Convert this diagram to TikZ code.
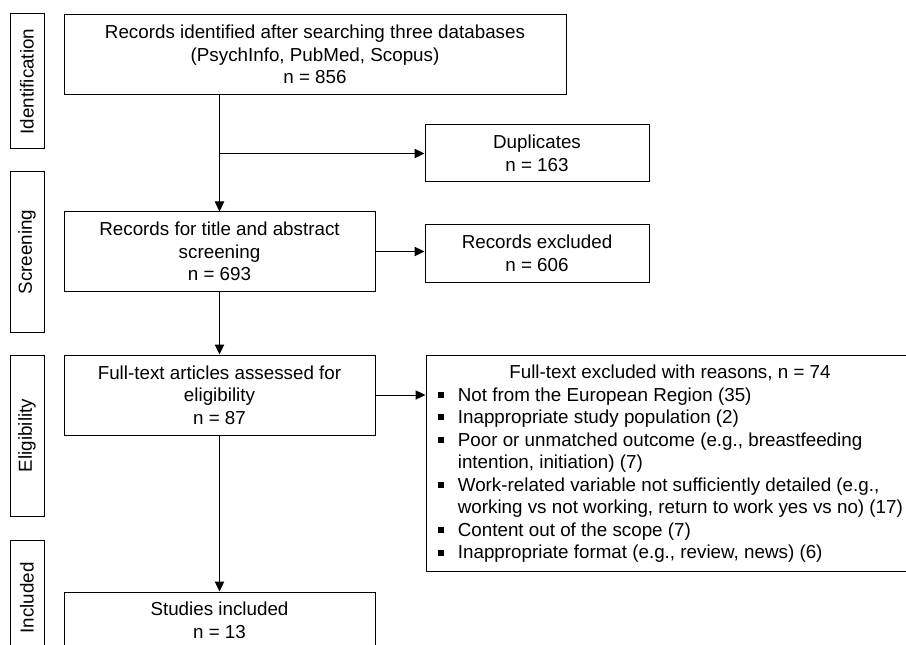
\documentclass[tikz,border=0pt]{standalone}
\usepackage{fontspec}
\setmainfont{Liberation Sans}
\usetikzlibrary{arrows.meta}
\tikzset{
  box/.style={draw, line width=0.75pt, align=center, inner sep=0pt,
    font=\fontsize{14.1}{16.9}\selectfont},
  lab/.style={draw, line width=0.75pt, rotate=90, inner sep=0pt, minimum height=25.5pt,
    font=\fontsize{14.1}{16.9}\selectfont},
  txt/.style={inner sep=0pt, font=\fontsize{14.1}{16.9}\selectfont},
  arr/.style={line width=0.75pt, -{Triangle[length=7.5pt,width=7pt]}},
  ln/.style={line width=0.75pt}
}
\newcommand{\bul}{\raisebox{2.4pt}{\rule{4.5pt}{4.5pt}}}
\begin{document}
\begin{tikzpicture}[x=0.75pt,y=-0.75pt]
\useasboundingbox (0,0) rectangle (906,645);
\clip (0,0) rectangle (906,645);
\fill[white] (0,0) rectangle (906,645);
% stage labels
\node[lab, minimum width=101.25pt] (lid) at (27,81.5) {Identification};
\node[lab, minimum width=120pt] (lsc) at (27,252) {Screening};
\node[lab, minimum width=120.75pt] (lel) at (27,435.5) {Eligibility};
\node[lab, minimum width=87pt] (lin) at (27,598) {Included};
% boxes
\node[box, minimum width=376.5pt, minimum height=60pt] (top) at (315,54.5)
  {Records identified after searching three databases\\(PsychInfo, PubMed, Scopus)\\n = 856};
\node[box, minimum width=168pt, minimum height=42.75pt] (dup) at (537,153.5)
  {Duplicates\\n = 163};
\node[box, minimum width=233.25pt, minimum height=59.25pt] (scr) at (219.5,251.5)
  {Records for title and abstract\\screening\\n = 693};
\node[box, minimum width=168pt, minimum height=42.75pt] (rex) at (537,253.5)
  {Records excluded\\n = 606};
\node[box, minimum width=233.25pt, minimum height=60pt] (ft) at (219.5,395)
  {Full-text articles assessed for\\eligibility\\n = 87};
\node[box, minimum width=366pt, minimum height=162pt] (exb) at (670,463) {};
\node[txt] (ext) at (670,373) {Full-text excluded with reasons, n = 74};
\node[txt, anchor=north west, align=left] (exl) at (438,385)
  {\begin{tabular}{@{}l@{\hspace{10.2pt}}l@{}}
  \bul & Not from the European Region (35)\\
  \bul & Inappropriate study population (2)\\
  \bul & Poor or unmatched outcome (e.g., breastfeeding\\
       & intention, initiation) (7)\\
  \bul & Work-related variable not sufficiently detailed (e.g.,\\
       & working vs not working, return to work yes vs no) (17)\\
  \bul & Content out of the scope (7)\\
  \bul & Inappropriate format (e.g., review, news) (6)
  \end{tabular}};
\node[box, minimum width=233.25pt, minimum height=42.75pt] (inc) at (219.5,620.5)
  {Studies included\\n = 13};
% connectors
\coordinate (t1) at (top.south -| scr.north);
\coordinate (br) at (scr.north |- dup.west);
\draw[ln] (t1) -- (br);
\draw[arr] (br) -- (scr.north);
\draw[arr] (br) -- (dup.west);
\draw[arr] (scr.east) -- (scr.east -| rex.west);
\draw[arr] (scr.south) -- (ft.north);
\draw[arr] (ft.east) -- (ft.east -| exb.west);
\draw[arr] (ft.south) -- (inc.north);
\end{tikzpicture}
\end{document}
